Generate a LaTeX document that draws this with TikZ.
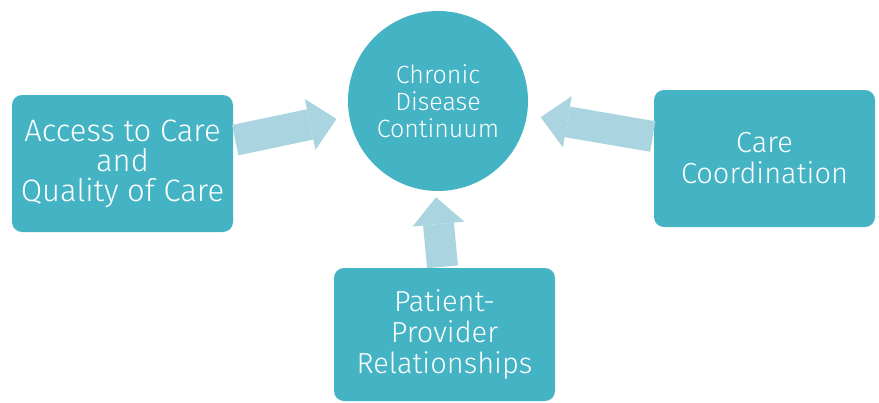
\documentclass[tikz,border=0pt]{standalone}
\usepackage{fontspec}
\setmainfont{Fira Sans}[UprightFont=* Light]
\usetikzlibrary{arrows.meta,calc}
\definecolor{teal}{RGB}{68,179,196}
\definecolor{paleblue}{RGB}{170,213,224}
\begin{document}
\begin{tikzpicture}[x=1pt,y=-1pt,
  box/.style={draw=none,fill=teal,rounded corners=10pt,text=white,align=center,
    inner sep=0pt,minimum width=221pt,font=\fontsize{29}{31}\selectfont},
  hub/.style={circle,fill=teal,text=white,align=center,minimum size=180pt,
    inner sep=0pt,font=\fontsize{25}{27}\selectfont},
  fatarrow/.style={draw=paleblue,line width=31pt,
    -{Triangle[length=27pt 0,width=52pt 0,line width=0pt 0]}}]
  \useasboundingbox (0,0) rectangle (879,402);

  % central circle and the three contributing boxes
  \node[hub] (C) at (438,101) {Chronic\\Disease\\Continuum};
  \node[box,minimum height=137pt,font=\fontsize{31}{30}\selectfont] (L) at (122.5,163.5) {Access to Care\\and\\Quality of Care};
  \node[box,minimum height=137pt] (R) at (764.5,158.5) {Care\\Coordination};
  \node[box,minimum height=133pt] (B) at (444.5,334.5) {Patient-\\Provider\\Relationships};

  % broad arrows pointing into the circle
  \draw[fatarrow] ($(L.north east)!0.33!(L.south east)+(2,0)$) -- ($(C.center)!103pt!(C.190)$);
  \draw[fatarrow] ($(R.north west)!0.34!(R.south west)+(-1,0)$) -- ($(C.center)!104pt!(C.351)$);
  \draw[fatarrow] ($(B.north)+(-2,-1)$) -- ($(C.south)+(-2,6)$);
\end{tikzpicture}
\end{document}
